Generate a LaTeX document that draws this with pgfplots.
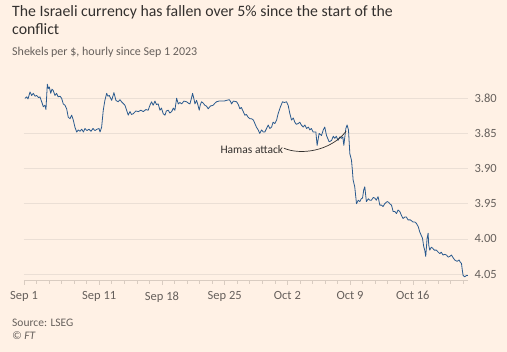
\documentclass[border=0pt]{standalone}
\usepackage{pgfplots}
\pgfplotsset{compat=1.18}
\usepackage{fontspec}
\setmainfont{Carlito}
\definecolor{ftbg}{HTML}{FFF1E5}
\definecolor{fttext}{HTML}{33302E}
\definecolor{ftgray}{HTML}{66605C}
\definecolor{ftgrid}{HTML}{EBDFD5}
\definecolor{ftaxis}{HTML}{D9CCC1}
\definecolor{ftline}{HTML}{2A5A8E}
\begin{document}
\begin{tikzpicture}
\fill[ftbg] (0pt,0pt) rectangle (507pt,352pt);
\useasboundingbox (0pt,0pt) rectangle (507pt,352pt);
\node[anchor=base west, inner sep=0, font=\fontsize{15.8}{19}\selectfont, text=fttext] at (12pt,335.3pt) {The Israeli currency has fallen over 5\% since the start of the};
\node[anchor=base west, inner sep=0, font=\fontsize{15.8}{19}\selectfont, text=fttext] at (12pt,317pt) {conflict};
\node[anchor=base west, inner sep=0, font=\fontsize{12}{14}\selectfont, text=ftgray] at (12pt,296pt) {Shekels per \$, hourly since Sep 1 2023};
\node[anchor=base west, inner sep=0, font=\fontsize{11.5}{13}\selectfont, text=ftgray] at (12pt,25pt) {Source: LSEG};
\node[anchor=base west, inner sep=0, font=\fontsize{11.5}{13}\selectfont\itshape, text=ftgray] at (12pt,12.5pt) {© FT};
\begin{axis}[
  at={(246pt,172pt)}, anchor=center,
  scale only axis, width=444pt, height=200pt,
  xmin=0, xmax=35.4,
  ymin=3.774, ymax=4.0585, y dir=reverse,
  axis x line*=bottom,
  axis y line*=right,
  y axis line style={draw=none},
  x axis line style={draw=ftaxis, line width=0.6pt},
  xtick={0,6,11,16,21,26,31},
  xticklabels={Sep 1, Sep 11, Sep 18, Sep 25, Oct 2, Oct 9, Oct 16},
  minor xtick={1,2,3,4,5,7,8,9,10,12,13,14,15,17,18,19,20,22,23,24,25,27,28,29,30,32,33,34,35},
  ytick={3.80,3.85,3.90,3.95,4.00,4.05},
  yticklabel style={/pgf/number format/fixed, /pgf/number format/precision=2, /pgf/number format/fixed zerofill, anchor=west, xshift=-2pt},
  /pgf/number format/assume math mode=true,
  tick label style={font=\fontsize{12.5}{14}\selectfont, text=ftgray},
  xticklabel style={yshift=-3pt},
  tick align=outside,
  x tick style={draw=ftaxis, line width=0.6pt},
  y tick style={draw=none},
  major tick length=5pt,
  minor tick length=4pt,
  ymajorgrids,
  grid style={draw=ftgrid, line width=0.6pt},
  clip=false,
]
\addplot[color=ftline, line width=0.8pt, line join=round] table {
0.08 3.800
0.22 3.798
0.32 3.801
0.48 3.791
0.61 3.796
0.74 3.793
0.88 3.797
1.01 3.796
1.16 3.799
1.27 3.798
1.41 3.805
1.54 3.812
1.67 3.810
1.75 3.816
1.86 3.780
1.94 3.786
2.02 3.784
2.13 3.793
2.23 3.787
2.33 3.789
2.47 3.796
2.59 3.793
2.73 3.798
2.87 3.797
3.00 3.800
3.13 3.808
3.27 3.810
3.40 3.815
3.53 3.827
3.67 3.829
3.80 3.824
3.93 3.831
4.06 3.841
4.20 3.848
4.33 3.845
4.46 3.847
4.60 3.844
4.74 3.848
4.86 3.843
5.02 3.846
5.18 3.844
5.34 3.847
5.50 3.843
5.66 3.846
5.82 3.844
5.98 3.843
6.06 3.848
6.19 3.841
6.32 3.817
6.45 3.803
6.59 3.793
6.69 3.797
6.80 3.796
6.99 3.803
7.17 3.792
7.33 3.803
7.51 3.805
7.65 3.802
7.78 3.805
8.05 3.810
8.31 3.824
8.45 3.819
8.57 3.823
8.71 3.822
8.92 3.818
9.11 3.819
9.32 3.817
9.51 3.819
9.72 3.816
9.90 3.817
10.04 3.810
10.17 3.805
10.30 3.810
10.44 3.804
10.56 3.809
10.70 3.808
10.84 3.817
10.96 3.814
11.10 3.822
11.24 3.824
11.35 3.818
11.50 3.817
11.63 3.821
11.77 3.819
11.91 3.814
12.03 3.817
12.17 3.800
12.30 3.808
12.43 3.806
12.57 3.808
12.75 3.804
12.96 3.805
13.11 3.807
13.23 3.808
13.35 3.800
13.44 3.793
13.55 3.801
13.63 3.808
13.76 3.803
13.86 3.809
13.97 3.817
14.06 3.809
14.16 3.805
14.30 3.807
14.42 3.810
14.54 3.811
14.69 3.815
14.86 3.811
15.08 3.810
15.22 3.807
15.35 3.805
15.54 3.804
15.75 3.804
15.94 3.804
16.15 3.803
16.36 3.802
16.45 3.804
16.55 3.808
16.69 3.804
16.95 3.805
17.09 3.809
17.21 3.815
17.33 3.813
17.43 3.817
17.61 3.824
17.73 3.823
17.87 3.827
18.01 3.829
18.14 3.829
18.29 3.831
18.41 3.836
18.53 3.841
18.67 3.845
18.80 3.850
18.94 3.845
19.08 3.848
19.20 3.848
19.34 3.843
19.47 3.838
19.60 3.843
19.74 3.841
19.86 3.834
20.00 3.836
20.14 3.831
20.26 3.822
20.45 3.812
20.61 3.805
20.76 3.806
20.93 3.805
21.06 3.810
21.20 3.822
21.33 3.831
21.47 3.828
21.59 3.834
21.71 3.837
21.86 3.836
21.99 3.834
22.11 3.838
22.26 3.841
22.39 3.838
22.53 3.843
22.67 3.841
22.79 3.845
22.91 3.843
23.05 3.848
23.27 3.848
23.37 3.867
23.53 3.850
23.72 3.853
23.86 3.845
23.98 3.841
24.12 3.853
24.33 3.862
24.52 3.860
24.66 3.854
24.78 3.857
24.90 3.854
25.04 3.860
25.18 3.855
25.31 3.857
25.42 3.855
25.50 3.867
25.66 3.843
25.76 3.838
25.87 3.845
25.98 3.879
26.11 3.888
26.18 3.902
26.24 3.916
26.37 3.926
26.44 3.938
26.51 3.950
26.65 3.945
26.77 3.947
26.89 3.943
26.99 3.942
27.09 3.930
27.17 3.926
27.30 3.947
27.45 3.943
27.57 3.945
27.70 3.945
27.85 3.941
27.97 3.942
28.09 3.945
28.23 3.940
28.37 3.952
28.50 3.952
28.63 3.954
28.76 3.950
28.95 3.947
29.08 3.948
29.16 3.950
29.30 3.952
29.43 3.961
29.56 3.961
29.70 3.964
29.82 3.959
29.96 3.961
30.08 3.966
30.22 3.971
30.36 3.969
30.49 3.969
30.62 3.973
30.80 3.973
31.02 3.976
31.16 3.976
31.29 3.978
31.44 3.983
31.55 3.990
31.67 3.995
31.77 3.999
31.87 4.011
31.95 4.016
32.03 4.025
32.14 3.999
32.22 3.992
32.27 4.009
32.35 4.016
32.47 4.012
32.57 4.013
32.71 4.016
32.88 4.016
33.03 4.019
33.15 4.021
33.27 4.019
33.41 4.023
33.55 4.022
33.68 4.023
33.82 4.026
33.94 4.025
34.08 4.023
34.22 4.027
34.34 4.030
34.53 4.032
34.69 4.030
34.78 4.033
34.88 4.035
34.95 4.045
35.01 4.052
35.14 4.054
35.28 4.052
35.38 4.052
};
\node[anchor=east, inner sep=0, font=\fontsize{11.5}{13}\selectfont, text=fttext] at (axis cs:20.68,3.873) {Hamas attack};
\draw[fttext, line width=0.7pt] (axis cs:20.72,3.871) .. controls (axis cs:22.0,3.881) and (axis cs:24.4,3.876) .. (axis cs:25.68,3.847);
\end{axis}
\end{tikzpicture}
\end{document}
